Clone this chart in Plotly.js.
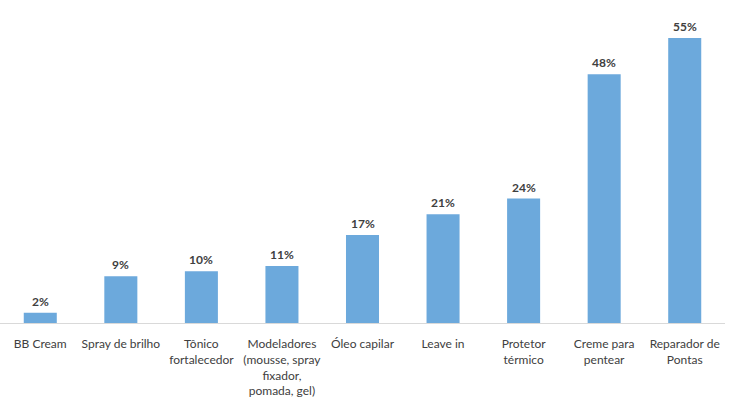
<!DOCTYPE html>
<html><head><meta charset="utf-8">
<script src="https://cdn.plot.ly/plotly-3.0.1.min.js"></script>
<style>html,body{margin:0;padding:0;background:#fff;}#chart{width:743px;height:412px;}</style>
</head><body><div id="chart"></div>
<script>
const categories = ["BB Cream","Spray de brilho","Tônico<br>fortalecedor","Modeladores<br>(mousse, spray<br>fixador,<br>pomada, gel)","Óleo capilar","Leave in","Protetor<br>térmico","Creme para<br>pentear","Reparador de<br>Pontas"];
const values = [2, 9, 10, 11, 17, 21, 24, 48, 55];
const valueLabels = values.map(v => v + "%");

const trace = {
  type: "bar",
  x: categories,
  y: values,
  marker: {color: "#6CA9DC"},
  hoverinfo: "skip"
};
const annotations = categories.map((c, i) => ({
  x: c, y: values[i], text: "<b>" + valueLabels[i] + "</b>",
  showarrow: false, yanchor: "bottom", yshift: 2,
  font: {family: "Lato, 'Open Sans', sans-serif", size: 12, color: "#404040"}
}));
const layout = {
  width: 743, height: 412,
  margin: {l: 0, r: 18, t: 12, b: 89},
  paper_bgcolor: "#fff", plot_bgcolor: "#fff",
  bargap: 0.59,
  showlegend: false,
  xaxis: {
    showline: true, linecolor: "#d9d9d9", linewidth: 1,
    ticks: "", showgrid: false, automargin: false,
    ticklabelstandoff: 10,
    tickfont: {family: "Lato, 'Open Sans', sans-serif", size: 12, color: "#404040"}
  },
  yaxis: {range: [0, 60], visible: false, showgrid: false, zeroline: false},
  annotations: annotations
};
Plotly.newPlot("chart", [trace], layout, {displayModeBar: false, staticPlot: true});
</script></body></html>
